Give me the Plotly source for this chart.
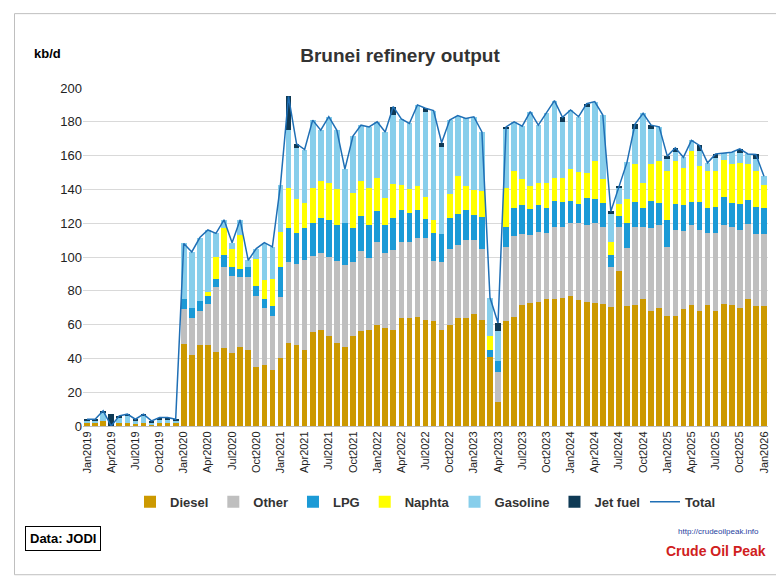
import numpy as np
import plotly.graph_objects as go

mon = ["Jan", "Feb", "Mar", "Apr", "May", "Jun", "Jul", "Aug", "Sep", "Oct", "Nov", "Dec"]
months = [f"{m}{y}" for y in range(2019, 2026) for m in mon] + ["Jan2026"]

# cumulative stack tops (kb/d)
diesel_top = [2, 2, 3, 0, 2, 2, 1, 2, 1, 2, 2, 2,
              48.6, 42, 48, 48, 44, 46, 43, 47, 45, 35, 36, 33,
              40, 49, 48, 45, 55.5, 57, 53.5, 49, 47, 53, 56.4, 57,
              60, 58, 57, 64, 63.7, 64.7, 62.7, 62, 57, 60, 64, 64,
              66, 63, 63, 14, 62, 64.7, 71.8, 73, 73.5, 75, 75, 76,
              77, 74.7, 73.5, 72.6, 72, 70.6, 92, 71, 71.8, 75, 68, 69.8,
              65, 65, 69, 71.6, 68, 71.6, 68, 72, 71.6, 69.6, 75, 70.8,
              70.8]
other_top = [2, 2, 3, 0, 2, 2, 1, 2, 1, 2, 2, 2,
             69, 64, 68, 72, 82, 94, 89, 88, 88, 77, 70, 65,
             76.5, 97, 96, 98, 100.7, 102.5, 100, 97.7, 95, 97, 103.6, 99.7,
             109, 102.5, 104, 108.6, 108.6, 111, 111, 97.7, 96.8, 104.6, 107, 110,
             110, 104.6, 40.7, 32, 106, 112.5, 113.5, 113, 115, 114, 118, 118,
             120, 120, 118.8, 120, 118, 94, 118, 105.6, 118, 118, 117, 118.8,
             106, 116, 115.4, 118.8, 116, 114, 114, 119, 118, 116, 119.4, 113.5,
             113.5]
lpg_top = [2, 2, 3, 0, 2, 2, 1, 2, 1, 2, 2, 2,
           75, 70, 74, 77, 87, 101, 94, 93, 94, 83, 75, 71,
           94, 117, 114, 117, 120, 123, 122, 119, 120, 117, 124.5, 119,
           127, 119, 123, 128, 126, 127.6, 122.7, 114, 113.5, 123, 125.7, 127.6,
           125, 123.7, 45, 38.3, 118, 129, 131, 128.5, 131, 129, 133, 132.6,
           133, 131.6, 135, 134.6, 131.8, 101, 124, 120, 132.5, 129, 133, 132,
           122, 131.6, 131, 132.7, 132.5, 129, 129.6, 135.6, 131.8, 131.6, 134, 129.8,
           128.8]
naphtha_top = [2, 2, 3, 0, 2, 2, 1, 2, 1, 2, 2, 2,
               75, 70, 74, 79, 100, 117, 105, 113, 94, 99, 86.5, 87,
               115, 140.6, 134.5, 132, 141, 145, 144, 140, 120, 138, 145, 141,
               147, 135, 143, 142.6, 140, 142, 135.7, 121.7, 113.5, 137, 148, 142,
               139.4, 139, 53, 38.3, 140.6, 151, 146, 142, 144, 144, 147, 147,
               152, 150.4, 150, 157, 146, 108.7, 131.6, 134.5, 155, 144, 155, 157,
               150.8, 157, 152.6, 163, 153.6, 151, 151, 157.3, 155, 155.7, 155.3, 151,
               142.8]
gasoline_top = [3, 3, 8, 0, 5, 6, 3, 6, 2, 4, 4, 3,
                108, 103, 111.5, 116, 114, 122, 108.5, 122, 98, 105, 108.5, 106,
                142.5, 175, 164.6, 163.6, 181, 175, 183, 175, 152, 171.5, 178, 177,
                180, 174, 184, 181.7, 179, 190, 185.6, 186.6, 165, 181, 183.7, 182,
                183, 174, 76, 56.4, 176, 180, 177.4, 186, 178, 185, 192.5, 180,
                187, 183, 188.6, 192, 184, 126, 141, 156, 176, 185, 176, 177,
                158, 162, 159, 169, 163, 155.7, 158.7, 161.7, 162, 161.7, 161, 158,
                147.8]
jet_top = [4, 4, 9, 7, 6, 7, 4, 7, 3, 5, 5, 4,
           108, 103, 111.5, 116, 114, 122, 108.5, 122, 98, 105, 108.5, 106,
           142.5, 195, 167, 163.6, 181, 175, 183, 175, 152, 171.5, 178, 177,
           180, 174, 189, 181.7, 179, 190, 188, 186.6, 167.6, 181, 183.7, 182,
           183, 174, 76, 61, 177, 180, 177.4, 186, 178, 185, 192.5, 182.7,
           187, 183, 190.7, 192, 184, 127, 142, 156, 178.7, 185, 178, 177,
           159.7, 164.6, 159, 169, 166, 155.7, 161, 161.7, 162, 164, 161, 160.7,
           147.8]
total = [4, 4, 9, 0, 6, 7, 4, 7, 3, 5, 5, 4] + jet_top[12:]

tops = np.array([diesel_top, other_top, lpg_top, naphtha_top, gasoline_top, jet_top])
parts = np.diff(np.vstack([np.zeros(len(months)), tops]), axis=0)

names = ["Diesel", "Other", "LPG", "Naphta", "Gasoline", "Jet fuel"]
colors = ["#CC9900", "#BFBFBF", "#1B9AD6", "#FFFF00", "#87CEEB", "#0F3A55"]

fig = go.Figure()
for name, col, vals in zip(names, colors, parts):
    fig.add_trace(go.Bar(x=months, y=vals, name=f"<b>{name}</b>", marker=dict(color=col, line_width=0)))
fig.add_trace(go.Scatter(x=months, y=total, name="<b>Total</b>", mode="lines",
                         line=dict(color="#1F6FB5", width=1.5)))

fig.add_annotation(text="<b>kb/d</b>", xref="paper", yref="paper", x=-0.075, y=1.13,
                   showarrow=False, font=dict(size=13, color="black"), xanchor="left")
fig.add_annotation(text="<b>Data: JODI</b>", xref="paper", yref="paper", x=-0.085, y=-0.37,
                   showarrow=False, xanchor="left", font=dict(size=13, color="black"),
                   bordercolor="black", borderwidth=1, borderpad=4)
fig.add_annotation(text="http://crudeoilpeak.info", xref="paper", yref="paper", x=0.99, y=-0.33,
                   showarrow=False, xanchor="right", font=dict(size=8, color="#1F3FA0"))
fig.add_annotation(text="<b>Crude Oil Peak</b>", xref="paper", yref="paper", x=1.0, y=-0.40,
                   showarrow=False, xanchor="right", font=dict(size=14, color="#D02020"))

fig.update_layout(
    width=784, height=579,
    barmode="stack", bargap=0.3,
    title=dict(text="<b>Brunei refinery output</b>", x=0.5, y=0.93, xanchor="center",
               font=dict(size=19, color="#333333")),
    font=dict(family="Liberation Sans, Arial", color="#333333"),
    plot_bgcolor="white", paper_bgcolor="white",
    margin=dict(l=75, r=24, t=80, b=161),
    xaxis=dict(tickmode="array", tickvals=months[::3], tickangle=-90,
               tickfont=dict(size=11, color="#222222"), showline=True, linecolor="#BFBFBF"),
    yaxis=dict(range=[0, 200], dtick=20, gridcolor="#D9D9D9",
               tickfont=dict(size=13, color="#222222"), zeroline=False),
    legend=dict(orientation="h", x=0.5, xanchor="center", y=-0.18, yanchor="top",
                font=dict(size=13), traceorder="normal"),
    shapes=[dict(type="rect", xref="paper", yref="paper", x0=-0.1, x1=1.03,
                 y0=-0.44, y1=1.22, line=dict(color="#BFBFBF", width=1))],
)

fig.write_html("out.html")
